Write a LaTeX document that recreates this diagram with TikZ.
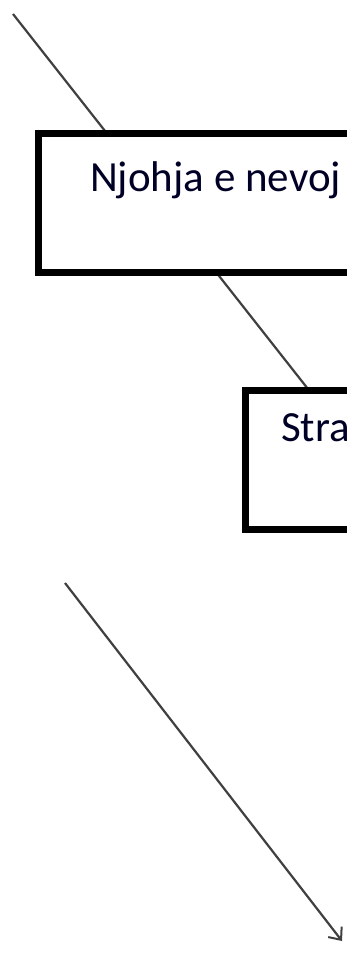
\documentclass[tikz,border=0pt]{standalone}
\usepackage{fontspec}
\setmainfont{Carlito}
\usetikzlibrary{arrows.meta}
\begin{document}
\begin{tikzpicture}[x=1pt,y=-1pt,
  stagebox/.style={draw=black,line width=7pt,fill=white,rectangle,outer sep=0pt,inner sep=0pt,anchor=north west},
  stagetext/.style={anchor=base west,inner sep=0pt,text=black!85!blue,font=\fontsize{43}{46}\selectfont},
  conn/.style={draw=black!75,line width=2.2pt},
  flow/.style={conn,-{Straight Barb[length=10pt,width=17pt,line width=2pt]}}]
  \useasboundingbox (0,0) rectangle (347,966);
  \clip (0,0) rectangle (347,966);
  \fill[white] (0,0) rectangle (347,966);
  % leading connector, passing behind the first stage
  \coordinate (lead) at (13,14);
  \coordinate (leadend) at (308,389);
  \draw[conn] (lead) -- (leadend);
  % first stage
  \node[stagebox,minimum width=380pt,minimum height=138.5pt] (box1) at (38.5,133.5) {};
  \node[stagetext] (t1) at (90,191) {Njohja e nevoj};
  % second stage
  \node[stagebox,minimum width=200pt,minimum height=139pt] (box2) at (245,390) {};
  \node[stagetext] (t2) at (281,441) {Stra};
  % outgoing arrow
  \coordinate (arrstart) at (65,583);
  \coordinate (arrend) at (342,941);
  \draw[flow] (arrstart) -- (arrend);
\end{tikzpicture}
\end{document}
